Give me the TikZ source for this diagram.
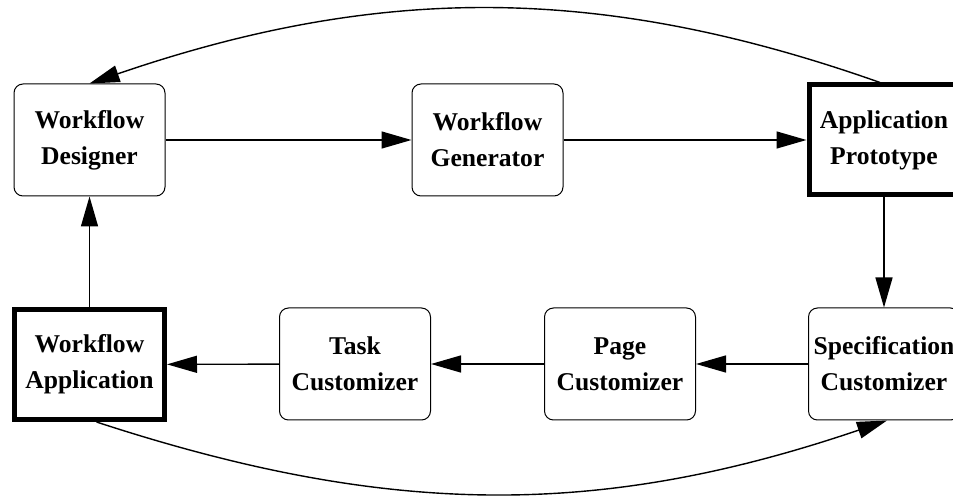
\documentclass[tikz,border=0pt]{standalone}
\usepackage{fontspec}
\setmainfont{Liberation Serif}
\usetikzlibrary{arrows.meta}

\begin{document}
\begin{tikzpicture}[x=0.5pt,y=-0.5pt]

        \clip (0,0) rectangle (953,496);

        \begin{scope}[every node/.style={draw,align=center,inner sep=0pt,
            font=\bfseries\fontsize{12.8}{18}\selectfont}]
          \begin{scope}[every node/.append style={rounded corners=4.5pt,line width=0.5pt,
              minimum width=75.5pt,minimum height=56pt}]
            \node (designer)  at (89.5,140)  {Workflow\\Designer};
            \node (generator) at (487.5,140) {Workflow\\Generator};
            \node (spec)      at (884,364)   {Specification\\Customizer};
            \node (page)      at (620,364)   {Page\\Customizer};
            \node (task)      at (355,364)   {Task\\Customizer};
          \end{scope}
          \begin{scope}[every node/.append style={line width=2.5pt,
              minimum width=75pt,minimum height=55pt}]
            \node (prototype) at (884,140)   {Application\\Prototype};
            \node (app)       at (89.5,364.5) {Workflow\\Application};
          \end{scope}
        \end{scope}

        \begin{scope}[every edge/.style={draw,line width=0.7pt,
            -{Triangle[length=15pt,width=8.5pt]}}]
          \path (designer)  edge (generator);
          \path (generator) edge (prototype);
          \path (prototype) edge (spec);
          \path (spec)      edge (page);
          \path (page)      edge (task);
          \path (task)      edge (app);
          \path (app)       edge (designer);
        \end{scope}

        \draw[line width=0.7pt,-{Triangle[length=15pt,width=8.5pt]}]
          ([xshift=-2pt]prototype.north) .. controls (601,-16) and (380,-16) .. (designer.north);
        \draw[line width=0.7pt,-{Triangle[length=15pt,width=8.5pt]}]
          ([xshift=3.5pt]app.south) .. controls (390,518) and (600,518) .. ([xshift=1.5pt]spec.south);

      \end{tikzpicture}
\end{document}
